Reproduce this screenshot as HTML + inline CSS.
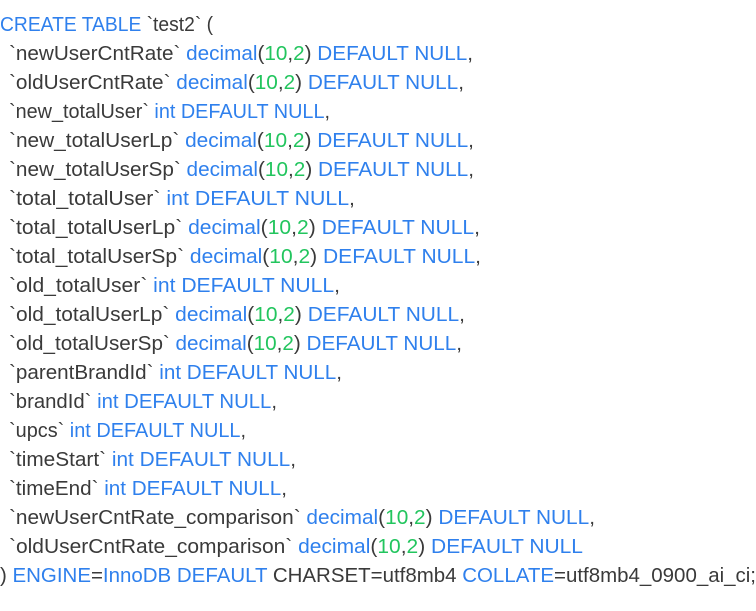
<!DOCTYPE html>
<html><head><meta charset="utf-8"><style>
html,body{margin:0;padding:0;background:#fff;width:756px;height:611px;overflow:hidden}
svg{display:block}
text{font-family:"Liberation Sans",sans-serif;font-size:20px;fill:#3a3a3a}
.b{fill:#2f80ed}.g{fill:#22c55e}
</style></head><body>
<svg width="756" height="611" xmlns="http://www.w3.org/2000/svg">
<text x="0" y="31" textLength="213" lengthAdjust="spacingAndGlyphs"><tspan class="b">CREATE TABLE</tspan> `test2` (</text>
<text x="9" y="60" textLength="464" lengthAdjust="spacingAndGlyphs">`newUserCntRate` <tspan class="b">decimal</tspan>(<tspan class="g">10</tspan>,<tspan class="g">2</tspan>) <tspan class="b">DEFAULT NULL</tspan>,</text>
<text x="9" y="89" textLength="455" lengthAdjust="spacingAndGlyphs">`oldUserCntRate` <tspan class="b">decimal</tspan>(<tspan class="g">10</tspan>,<tspan class="g">2</tspan>) <tspan class="b">DEFAULT NULL</tspan>,</text>
<text x="9" y="118" textLength="321" lengthAdjust="spacingAndGlyphs">`new_totalUser` <tspan class="b">int DEFAULT NULL</tspan>,</text>
<text x="9" y="147" textLength="465" lengthAdjust="spacingAndGlyphs">`new_totalUserLp` <tspan class="b">decimal</tspan>(<tspan class="g">10</tspan>,<tspan class="g">2</tspan>) <tspan class="b">DEFAULT NULL</tspan>,</text>
<text x="9" y="176" textLength="465" lengthAdjust="spacingAndGlyphs">`new_totalUserSp` <tspan class="b">decimal</tspan>(<tspan class="g">10</tspan>,<tspan class="g">2</tspan>) <tspan class="b">DEFAULT NULL</tspan>,</text>
<text x="9" y="205" textLength="346" lengthAdjust="spacingAndGlyphs">`total_totalUser` <tspan class="b">int DEFAULT NULL</tspan>,</text>
<text x="9" y="234" textLength="471" lengthAdjust="spacingAndGlyphs">`total_totalUserLp` <tspan class="b">decimal</tspan>(<tspan class="g">10</tspan>,<tspan class="g">2</tspan>) <tspan class="b">DEFAULT NULL</tspan>,</text>
<text x="9" y="263" textLength="472" lengthAdjust="spacingAndGlyphs">`total_totalUserSp` <tspan class="b">decimal</tspan>(<tspan class="g">10</tspan>,<tspan class="g">2</tspan>) <tspan class="b">DEFAULT NULL</tspan>,</text>
<text x="9" y="292" textLength="331" lengthAdjust="spacingAndGlyphs">`old_totalUser` <tspan class="b">int DEFAULT NULL</tspan>,</text>
<text x="9" y="321" textLength="456" lengthAdjust="spacingAndGlyphs">`old_totalUserLp` <tspan class="b">decimal</tspan>(<tspan class="g">10</tspan>,<tspan class="g">2</tspan>) <tspan class="b">DEFAULT NULL</tspan>,</text>
<text x="9" y="350" textLength="453" lengthAdjust="spacingAndGlyphs">`old_totalUserSp` <tspan class="b">decimal</tspan>(<tspan class="g">10</tspan>,<tspan class="g">2</tspan>) <tspan class="b">DEFAULT NULL</tspan>,</text>
<text x="9" y="379" textLength="333" lengthAdjust="spacingAndGlyphs">`parentBrandId` <tspan class="b">int DEFAULT NULL</tspan>,</text>
<text x="9" y="408" textLength="268" lengthAdjust="spacingAndGlyphs">`brandId` <tspan class="b">int DEFAULT NULL</tspan>,</text>
<text x="9" y="437" textLength="237" lengthAdjust="spacingAndGlyphs">`upcs` <tspan class="b">int DEFAULT NULL</tspan>,</text>
<text x="9" y="466" textLength="287" lengthAdjust="spacingAndGlyphs">`timeStart` <tspan class="b">int DEFAULT NULL</tspan>,</text>
<text x="9" y="495" textLength="278" lengthAdjust="spacingAndGlyphs">`timeEnd` <tspan class="b">int DEFAULT NULL</tspan>,</text>
<text x="9" y="524" textLength="586" lengthAdjust="spacingAndGlyphs">`newUserCntRate_comparison` <tspan class="b">decimal</tspan>(<tspan class="g">10</tspan>,<tspan class="g">2</tspan>) <tspan class="b">DEFAULT NULL</tspan>,</text>
<text x="9" y="553" textLength="574" lengthAdjust="spacingAndGlyphs">`oldUserCntRate_comparison` <tspan class="b">decimal</tspan>(<tspan class="g">10</tspan>,<tspan class="g">2</tspan>) <tspan class="b">DEFAULT NULL</tspan></text>
<text x="0" y="582" textLength="756" lengthAdjust="spacingAndGlyphs">) <tspan class="b">ENGINE</tspan>=<tspan class="b">InnoDB DEFAULT</tspan> CHARSET=utf8mb4 <tspan class="b">COLLATE</tspan>=utf8mb4_0900_ai_ci;</text>
</svg>
</body></html>
